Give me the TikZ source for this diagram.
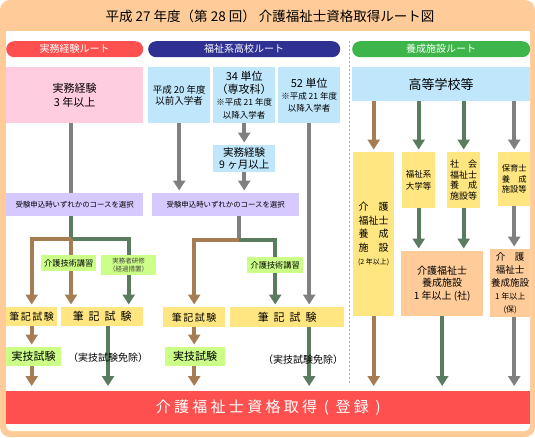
\documentclass[tikz,border=0pt]{standalone}
\usepackage{fontspec}
\setmainfont{Noto Sans CJK JP}
\usetikzlibrary{arrows.meta}
\definecolor{framebg}{HTML}{FFCC99}
\definecolor{redroute}{HTML}{FF5050}
\definecolor{navyroute}{HTML}{2E3192}
\definecolor{greenroute}{HTML}{3DB54A}
\definecolor{pinkbox}{HTML}{FFCCE0}
\definecolor{bluebox}{HTML}{BFE6FB}
\definecolor{lilacbox}{HTML}{D6C9FF}
\definecolor{limebox}{HTML}{CCFF88}
\definecolor{yellowbox}{HTML}{FFE680}
\definecolor{peachbox}{HTML}{FFCC99}
\definecolor{grayline}{HTML}{808080}
\definecolor{brownline}{HTML}{A67C52}
\definecolor{greenline}{HTML}{5B7B5F}
\pgfdeclarelayer{back}
\pgfdeclarelayer{wires}
\pgfsetlayers{back,wires,main}
\newcommand{\fs}[2]{\fontsize{#1}{#2}\selectfont}
\newcommand{\spaced}[1]{\addfontfeatures{LetterSpace=#1}}
\begin{document}
\begin{tikzpicture}[x=1pt, y=-1pt,
	cell/.style = {anchor=north west, inner sep=0pt, align=center},
	pill/.style = {cell, rounded corners=8, text=white, font=\fs{10}{12}, minimum height=16},
	wire/.style = {line width=4pt},
	arr/.style = {wire, -{Triangle[width=12pt,length=10pt]}, shorten >=2.5pt},
	tobar/.style = {arr, shorten >=5pt},
	hiki/.style = {cell, fill=yellowbox, font=\fs{10}{12}\spaced{15}},
	hikiwide/.style = {cell, fill=yellowbox, font=\fs{11}{13}\spaced{45}},
	jitsugi/.style = {cell, fill=limebox, font=\fs{11}{13}},
	kogi/.style = {cell, fill=limebox, font=\fs{8.2}{10}}]
	\useasboundingbox (0,0) rectangle (535,437);
	\begin{pgfonlayer}{back}
		\fill[framebg, rounded corners=10] (0,0) rectangle (535,437);
		\fill[white, rounded corners=6] (6,31) rectangle (530,431);
		\fill[white] (6,31) rectangle (530,45);
		\draw[gray!70, dash pattern=on 2pt off 2pt] (349,41) -- (349,383);
	\end{pgfonlayer}
	\node[font=\fs{13.5}{16}] (title) at (270,16) {平成 27 年度（第 28 回） 介護福祉士資格取得ルート図};
	\node[pill, fill=redroute, minimum width=137] (hdrA) at (6,41) {実務経験ルート};
	\node[pill, fill=navyroute, minimum width=192] (hdrB) at (148,41) {福祉系高校ルート};
	\node[pill, fill=greenroute, minimum width=178] (hdrC) at (352,41) {養成施設ルート};
	\node[cell, fill=pinkbox, minimum width=137, minimum height=56, font=\fs{11}{13.5}] (keiken) at (6,67) {実務経験\\3 年以上};
	\node[cell, fill=bluebox, minimum width=62, minimum height=56, font=\fs{9.5}{11}] (h20) at (148,67) {平成 20 年度\\以前入学者};
	\node[cell, fill=bluebox, minimum width=62, minimum height=56, font=\fs{11}{12.5}] (u34) at (213,67) {34 単位\\（専攻科）\\\fs{8.5}{10}※平成 21 年度\\\fs{8.5}{10}以降入学者};
	\node[cell, fill=bluebox, minimum width=62, minimum height=56, font=\fs{11}{12}] (u52) at (278,67) {52 単位\\\fs{8.5}{10}※平成 21 年度\\\fs{8.5}{10}以降入学者};
	\node[cell, fill=bluebox, minimum width=178, minimum height=34, font=\fs{13}{15}] (koko) at (352,67) {高等学校等};
	\node[cell, fill=bluebox, minimum width=62, minimum height=27, font=\fs{10.5}{12}] (m9) at (213,145) {実務経験\\9 ヶ月以上};
	\node[cell, fill=lilacbox, minimum width=137, minimum height=23, font=\fs{7.4}{9}] (selA) at (6,193) {受験申込時いずれかのコースを選択};
	\node[cell, fill=lilacbox, minimum width=147, minimum height=23, font=\fs{7.4}{9}] (selB) at (152,193) {受験申込時いずれかのコースを選択};
	\coordinate (jA) at (71,239);
	\coordinate (jB) at (239,240);
	\node[kogi, minimum width=55, minimum height=16] (kogiA) at (41,255) {介護技術講習};
	\node[kogi, minimum width=55, minimum height=20, font=\fs{6.5}{8}, text=darkgray] (jitsumusha) at (101,255) {実務者研修\\（経過措置）};
	\node[kogi, minimum width=56, minimum height=16] (kogiB) at (247,257) {介護技術講習};
	\node[hiki, minimum width=51, minimum height=19] (hikiA1) at (6,307) {筆記試験};
	\node[hikiwide, minimum width=82, minimum height=19] (hikiA2) at (61,307) {筆記試験};
	\node[jitsugi, minimum width=55, minimum height=19] (jitsugiA) at (6,347) {実技試験};
	\node[font=\fs{10}{12}] (menjoA) at (108,358) {（実技試験免除）};
	\node[hiki, minimum width=62, minimum height=20] (hikiB1) at (163,307) {筆記試験};
	\node[hikiwide, minimum width=114, minimum height=20] (hikiB2) at (230,307) {筆記試験};
	\node[jitsugi, minimum width=60, minimum height=19] (jitsugiB) at (165,347) {実技試験};
	\node[font=\fs{10}{12}] (menjoB) at (303,360) {（実技試験免除）};
	\node[cell, fill=yellowbox, minimum width=41, minimum height=164, font=\fs{10}{13.5}] (yoseiA) at (353,152) {介　護\\福祉士\\養　成\\施　設\\\fs{7}{12}(2 年以上)};
	\node[cell, fill=yellowbox, minimum width=33, minimum height=56, font=\fs{8.5}{12}] (daigaku) at (402,152) {福祉系\\大学等};
	\node[cell, fill=yellowbox, minimum width=33, minimum height=56, font=\fs{9}{10.5}] (shakai) at (447,152) {社　会\\福祉士\\養　成\\施設等};
	\node[cell, fill=yellowbox, minimum width=32, minimum height=54, font=\fs{8.3}{10.5}] (hoiku) at (498,152) {保育士\\養　成\\施設等};
	\node[cell, fill=peachbox, minimum width=82, minimum height=65, font=\fs{10}{12.5}] (yoseiS) at (401,251) {介護福祉士\\養成施設\\1 年以上 (社)};
	\node[cell, fill=peachbox, minimum width=40, minimum height=68, font=\fs{9.5}{13}] (yoseiH) at (490,249) {介　護\\福祉士\\養成施設\\\fs{8}{11}1 年以上\\\fs{8}{10}(保)};
	\node[cell, fill=redroute, minimum width=524, minimum height=33, text=white, font=\fs{15}{17}\spaced{22}] (shikaku) at (6,391) {介護福祉士資格取得 ( 登録 )};
	\begin{pgfonlayer}{wires}
		\draw[wire, grayline] (keiken.south -| jA) -- (selA.north -| jA);
		\draw[arr, greenline] (selA.south -| jA) -- (jA) -| (hikiA2.north -| jitsumusha);
		\draw[arr, brownline] (jA) -| (hikiA1.north);
		\draw[arr, brownline] (jA) -- (hikiA2.north -| jA);
		\draw[arr, brownline] (hikiA1.south) -- (hikiA1.south |- jitsugiA.north);
		\draw[tobar, brownline] (jitsugiA.south -| hikiA1) -- (shikaku.north -| hikiA1);
		\draw[tobar, greenline] (hikiA2.south -| menjoA) -- (shikaku.north -| menjoA);
		\draw[arr, grayline] (h20) -- (h20 |- selB.north);
		\draw[arr, grayline] (u34) -- (m9);
		\draw[arr, grayline] (m9) -- (m9 |- selB.north);
		\draw[arr, grayline] (u52) -- (u52 |- hikiB2.north);
		\draw[wire, grayline] (selB.south -| jB) -- (jB);
		\draw[arr, brownline] (jB) -| (hikiB1.north);
		\draw[arr, greenline] (jB) -| (hikiB2.north -| kogiB);
		\draw[arr, brownline] (hikiB1) -- (hikiB1 |- jitsugiB.north);
		\draw[tobar, brownline] (jitsugiB.south -| hikiB1) -- (shikaku.north -| hikiB1);
		\draw[tobar, greenline] (hikiB2.south -| u52) -- (shikaku.north -| u52);
		\draw[arr, brownline] (koko.south -| yoseiA) -- (yoseiA);
		\draw[arr, greenline] (koko.south -| daigaku) -- (daigaku);
		\draw[arr, greenline] (koko.south -| shakai) -- (shakai);
		\draw[arr, grayline] (koko.south -| hoiku) -- (hoiku);
		\draw[arr, greenline] (daigaku) -- (daigaku |- yoseiS.north);
		\draw[arr, greenline] (shakai) -- (shakai |- yoseiS.north);
		\draw[arr, grayline] (hoiku) -- (hoiku |- yoseiH.north);
		\draw[tobar, brownline] (yoseiA) -- (yoseiA |- shikaku.north);
		\draw[tobar, greenline] (yoseiS) -- (yoseiS |- shikaku.north);
		\draw[tobar, grayline] (yoseiH.south -| hoiku) -- (shikaku.north -| hoiku);
	\end{pgfonlayer}
\end{tikzpicture}
\end{document}
